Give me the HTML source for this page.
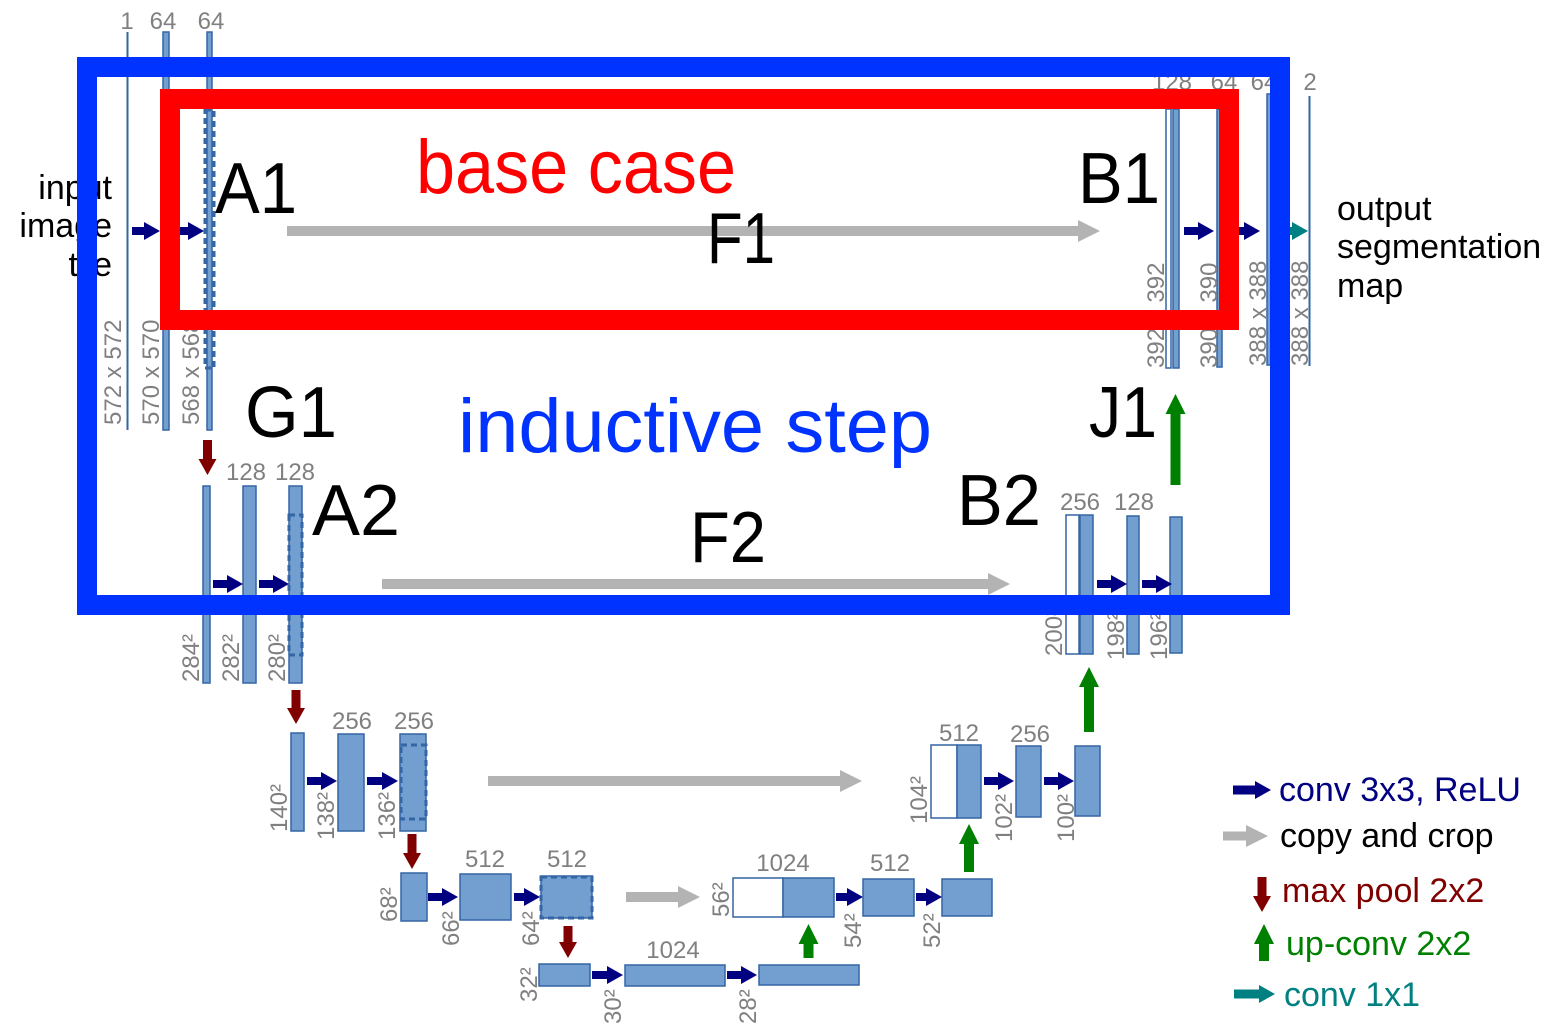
<!DOCTYPE html>
<html><head><meta charset="utf-8"><style>
html,body{margin:0;padding:0;background:#fff;}
svg{display:block;}
.b{fill:#729fcf;stroke:#3465a4;stroke-width:1.5;}
.w{fill:#fff;stroke:#3465a4;stroke-width:1.5;}
.d{fill:none;stroke:#3465a4;stroke-width:3;stroke-dasharray:6,4;}
.n{font-family:"Liberation Sans",sans-serif;font-size:24px;fill:#808080;text-anchor:middle;}
.v{font-family:"Liberation Sans",sans-serif;font-size:24px;fill:#808080;}
.big{font-family:"Liberation Sans",sans-serif;font-size:72px;fill:#000;}
.lg{font-family:"Liberation Sans",sans-serif;font-size:34px;}
</style></head><body>
<svg width="1555" height="1036" viewBox="0 0 1555 1036" xmlns="http://www.w3.org/2000/svg">
<defs>
<marker id="mn" markerUnits="userSpaceOnUse" markerWidth="16" markerHeight="20" refX="0" refY="10" orient="auto"><path d="M0,1 L16,10 L0,19 z" fill="#000080"/></marker>
<marker id="mg" markerUnits="userSpaceOnUse" markerWidth="22" markerHeight="24" refX="0" refY="12" orient="auto"><path d="M0,1 L22,12 L0,23 z" fill="#b3b3b3"/></marker>
<marker id="mr" markerUnits="userSpaceOnUse" markerWidth="16" markerHeight="20" refX="0" refY="10" orient="auto"><path d="M0,1 L16,10 L0,19 z" fill="#800000"/></marker>
<marker id="mgr" markerUnits="userSpaceOnUse" markerWidth="20" markerHeight="22" refX="0" refY="11" orient="auto"><path d="M0,1 L20,11 L0,21 z" fill="#008000"/></marker>
<marker id="mt" markerUnits="userSpaceOnUse" markerWidth="16" markerHeight="20" refX="0" refY="10" orient="auto"><path d="M0,1 L16,10 L0,19 z" fill="#008080"/></marker>
</defs>

<!-- Level 1 left -->
<line x1="127.5" y1="32" x2="127.5" y2="430" stroke="#3465a4" stroke-width="2"/>
<rect class="b" x="163" y="32" width="6" height="398"/>
<rect class="b" x="207" y="32" width="5" height="398"/>
<rect class="d" x="205" y="110" width="9" height="258"/>
<text class="n" x="127" y="29">1</text><text class="n" x="163" y="29">64</text><text class="n" x="211" y="29">64</text>
<text class="v" transform="translate(121,425) rotate(-90)">572 x 572</text>
<text class="v" transform="translate(159,425) rotate(-90)">570 x 570</text>
<text class="v" transform="translate(199,425) rotate(-90)">568 x 568</text>
<line x1="132" y1="231" x2="144" y2="231" stroke="#000080" stroke-width="8" marker-end="url(#mn)"/>
<line x1="180" y1="231" x2="188" y2="231" stroke="#000080" stroke-width="8" marker-end="url(#mn)"/>
<line x1="207.5" y1="440" x2="207.5" y2="459" stroke="#800000" stroke-width="9" marker-end="url(#mr)"/>

<!-- Level 2 left -->
<rect class="b" x="203" y="486" width="7" height="197"/>
<rect class="b" x="243" y="486" width="13" height="197"/>
<rect class="b" x="289" y="486" width="13" height="197"/>
<rect class="d" x="289" y="515" width="13" height="140"/>
<text class="n" x="246" y="480">128</text><text class="n" x="295" y="480">128</text>
<text class="v" transform="translate(199,682) rotate(-90)">284²</text>
<text class="v" transform="translate(239,682) rotate(-90)">282²</text>
<text class="v" transform="translate(285,682) rotate(-90)">280²</text>
<line x1="213" y1="584" x2="227" y2="584" stroke="#000080" stroke-width="8" marker-end="url(#mn)"/>
<line x1="259" y1="584" x2="273" y2="584" stroke="#000080" stroke-width="8" marker-end="url(#mn)"/>
<line x1="296" y1="690" x2="296" y2="708" stroke="#800000" stroke-width="9" marker-end="url(#mr)"/>

<!-- Level 3 left -->
<rect class="b" x="291" y="733" width="13" height="98"/>
<rect class="b" x="338" y="734" width="26" height="97"/>
<rect class="b" x="400" y="734" width="26" height="97"/>
<rect class="d" x="401" y="745" width="25" height="74"/>
<text class="n" x="352" y="729">256</text><text class="n" x="414" y="729">256</text>
<text class="v" transform="translate(287,832) rotate(-90)">140²</text>
<text class="v" transform="translate(334,840) rotate(-90)">138²</text>
<text class="v" transform="translate(395,840) rotate(-90)">136²</text>
<line x1="307" y1="781" x2="321" y2="781" stroke="#000080" stroke-width="8" marker-end="url(#mn)"/>
<line x1="367" y1="781" x2="382" y2="781" stroke="#000080" stroke-width="8" marker-end="url(#mn)"/>
<line x1="412" y1="834" x2="412" y2="853" stroke="#800000" stroke-width="9" marker-end="url(#mr)"/>

<!-- Level 4 left -->
<rect class="b" x="401" y="873" width="26" height="48"/>
<rect class="b" x="460" y="874" width="51" height="46"/>
<rect class="b" x="541" y="876" width="51" height="42"/>
<rect class="d" x="541" y="877" width="51" height="41"/>
<text class="n" x="485" y="867">512</text><text class="n" x="567" y="867">512</text>
<text class="v" transform="translate(397,922) rotate(-90)">68²</text>
<text class="v" transform="translate(459,946) rotate(-90)">66²</text>
<text class="v" transform="translate(539,946) rotate(-90)">64²</text>
<line x1="428" y1="897" x2="442" y2="897" stroke="#000080" stroke-width="8" marker-end="url(#mn)"/>
<line x1="514" y1="897" x2="524" y2="897" stroke="#000080" stroke-width="8" marker-end="url(#mn)"/>
<line x1="568" y1="926" x2="568" y2="942" stroke="#800000" stroke-width="9" marker-end="url(#mr)"/>

<!-- Level 5 -->
<rect class="b" x="539" y="964" width="51" height="22"/>
<rect class="b" x="625" y="965" width="100" height="21"/>
<rect class="b" x="759" y="965" width="100" height="20"/>
<text class="n" x="673" y="958">1024</text>
<text class="v" transform="translate(537,1002) rotate(-90)">32²</text>
<text class="v" transform="translate(621,1024) rotate(-90)">30²</text>
<text class="v" transform="translate(756,1024) rotate(-90)">28²</text>
<line x1="592" y1="975" x2="607" y2="975" stroke="#000080" stroke-width="8" marker-end="url(#mn)"/>
<line x1="727" y1="975" x2="741" y2="975" stroke="#000080" stroke-width="8" marker-end="url(#mn)"/>
<line x1="808.5" y1="958" x2="808.5" y2="944" stroke="#008000" stroke-width="10" marker-end="url(#mgr)"/>

<!-- Level 4 right -->
<rect class="w" x="733" y="878" width="50" height="39"/>
<rect class="b" x="783" y="878" width="51" height="39"/>
<rect class="b" x="863" y="879" width="51" height="37"/>
<rect class="b" x="942" y="879" width="50" height="37"/>
<text class="n" x="783" y="871">1024</text><text class="n" x="890" y="871">512</text>
<text class="v" transform="translate(729,917) rotate(-90)">56²</text>
<text class="v" transform="translate(861,948) rotate(-90)">54²</text>
<text class="v" transform="translate(940,948) rotate(-90)">52²</text>
<line x1="836" y1="897" x2="847" y2="897" stroke="#000080" stroke-width="8" marker-end="url(#mn)"/>
<line x1="916" y1="897" x2="926" y2="897" stroke="#000080" stroke-width="8" marker-end="url(#mn)"/>
<line x1="626" y1="897" x2="678" y2="897" stroke="#b3b3b3" stroke-width="10" marker-end="url(#mg)"/>
<line x1="969" y1="872" x2="969" y2="844" stroke="#008000" stroke-width="10" marker-end="url(#mgr)"/>

<!-- Level 3 right -->
<rect class="w" x="931" y="745" width="26" height="73"/>
<rect class="b" x="957" y="745" width="24" height="73"/>
<rect class="b" x="1016" y="746" width="25" height="71"/>
<rect class="b" x="1075" y="746" width="25" height="70"/>
<text class="n" x="959" y="741">512</text><text class="n" x="1030" y="742">256</text>
<text class="v" transform="translate(927,824) rotate(-90)">104²</text>
<text class="v" transform="translate(1012,842) rotate(-90)">102²</text>
<text class="v" transform="translate(1074,842) rotate(-90)">100²</text>
<line x1="984" y1="781" x2="998" y2="781" stroke="#000080" stroke-width="8" marker-end="url(#mn)"/>
<line x1="1044" y1="781" x2="1058" y2="781" stroke="#000080" stroke-width="8" marker-end="url(#mn)"/>
<line x1="488" y1="781" x2="840" y2="781" stroke="#b3b3b3" stroke-width="10" marker-end="url(#mg)"/>
<line x1="1089" y1="732" x2="1089" y2="687" stroke="#008000" stroke-width="10" marker-end="url(#mgr)"/>

<!-- Level 2 right -->
<rect class="w" x="1066" y="515" width="13" height="139"/>
<rect class="b" x="1080" y="515" width="13" height="139"/>
<rect class="b" x="1127" y="516" width="12" height="138"/>
<rect class="b" x="1170" y="517" width="12" height="136"/>
<text class="n" x="1080" y="510">256</text><text class="n" x="1134" y="510">128</text>
<text class="v" transform="translate(1062,656) rotate(-90)">200²</text>
<text class="v" transform="translate(1124,660) rotate(-90)">198²</text>
<text class="v" transform="translate(1167,660) rotate(-90)">196²</text>
<line x1="1097" y1="584" x2="1111" y2="584" stroke="#000080" stroke-width="8" marker-end="url(#mn)"/>
<line x1="1142" y1="584" x2="1156" y2="584" stroke="#000080" stroke-width="8" marker-end="url(#mn)"/>
<line x1="382" y1="584" x2="988" y2="584" stroke="#b3b3b3" stroke-width="10" marker-end="url(#mg)"/>
<line x1="1175.5" y1="485" x2="1175.5" y2="414" stroke="#008000" stroke-width="10" marker-end="url(#mgr)"/>

<!-- Level 1 right -->
<rect class="w" x="1166" y="109" width="5" height="259"/>
<rect class="b" x="1173" y="109" width="6" height="259"/>
<rect class="b" x="1217" y="109" width="5" height="258"/>
<rect class="b" x="1267" y="94" width="5" height="271"/>
<line x1="1309.5" y1="96" x2="1309.5" y2="366" stroke="#3465a4" stroke-width="2"/>
<text class="n" x="1172" y="90">128</text><text class="n" x="1224" y="90">64</text><text class="n" x="1264" y="90">64</text><text class="n" x="1310" y="90">2</text>
<text class="v" transform="translate(1164,368) rotate(-90)">392 x 392</text>
<text class="v" transform="translate(1217,368) rotate(-90)">390 x 390</text>
<text class="v" transform="translate(1266,366) rotate(-90)">388 x 388</text>
<text class="v" transform="translate(1308,366) rotate(-90)">388 x 388</text>
<line x1="1184" y1="231" x2="1198" y2="231" stroke="#000080" stroke-width="8" marker-end="url(#mn)"/>
<line x1="1238" y1="231" x2="1244" y2="231" stroke="#000080" stroke-width="8" marker-end="url(#mn)"/>
<line x1="1280" y1="231" x2="1292" y2="231" stroke="#008080" stroke-width="8" marker-end="url(#mt)"/>
<line x1="287" y1="231" x2="1078" y2="231" stroke="#b3b3b3" stroke-width="10" marker-end="url(#mg)"/>

<!-- side texts -->
<g font-family="Liberation Sans, sans-serif" font-size="34" fill="#000" text-anchor="end">
<text x="112" y="199">input</text><text x="112" y="237">image</text><text x="112" y="276">tile</text>
</g>
<g font-family="Liberation Sans, sans-serif" font-size="34" fill="#000">
<text x="1337" y="220">output</text><text x="1337" y="258">segmentation</text><text x="1337" y="297">map</text>
</g>

<!-- overlays -->
<rect x="87" y="67" width="1193" height="538" fill="none" stroke="#0033ff" stroke-width="20"/>
<rect x="170" y="99" width="1059" height="221" fill="none" stroke="#ff0000" stroke-width="20"/>

<text class="big" x="416" y="193" style="fill:#ff0000;font-size:76px" textLength="320" lengthAdjust="spacingAndGlyphs">base case</text>
<text class="big" x="458" y="452" style="fill:#0033ff;font-size:76px" textLength="474" lengthAdjust="spacingAndGlyphs">inductive step</text>
<text class="big" x="215" y="213" textLength="82" lengthAdjust="spacingAndGlyphs">A1</text>
<text class="big" x="1078" y="203" textLength="82" lengthAdjust="spacingAndGlyphs">B1</text>
<text class="big" x="707" y="263" textLength="68" lengthAdjust="spacingAndGlyphs">F1</text>
<text class="big" x="245" y="437" textLength="92" lengthAdjust="spacingAndGlyphs">G1</text>
<text class="big" x="1089" y="437" textLength="68" lengthAdjust="spacingAndGlyphs">J1</text>
<text class="big" x="312" y="535" textLength="88" lengthAdjust="spacingAndGlyphs">A2</text>
<text class="big" x="957" y="525" textLength="84" lengthAdjust="spacingAndGlyphs">B2</text>
<text class="big" x="690" y="562" textLength="76" lengthAdjust="spacingAndGlyphs">F2</text>

<!-- legend -->
<line x1="1233" y1="790" x2="1255" y2="790" stroke="#000080" stroke-width="9" marker-end="url(#mn)"/>
<text class="lg" x="1279" y="801" fill="#000080">conv 3x3, ReLU</text>
<line x1="1223" y1="836" x2="1246" y2="836" stroke="#b3b3b3" stroke-width="9" marker-end="url(#mg)"/>
<text class="lg" x="1280" y="847" fill="#000">copy and crop</text>
<line x1="1262" y1="877" x2="1262" y2="896" stroke="#800000" stroke-width="9" marker-end="url(#mr)"/>
<text class="lg" x="1282" y="902" fill="#800000">max pool 2x2</text>
<line x1="1264" y1="961" x2="1264" y2="944" stroke="#008000" stroke-width="10" marker-end="url(#mgr)"/>
<text class="lg" x="1286" y="955" fill="#008000">up-conv 2x2</text>
<line x1="1234" y1="994" x2="1259" y2="994" stroke="#008080" stroke-width="9" marker-end="url(#mt)"/>
<text class="lg" x="1284" y="1006" fill="#008080">conv 1x1</text>
</svg>
</body></html>
